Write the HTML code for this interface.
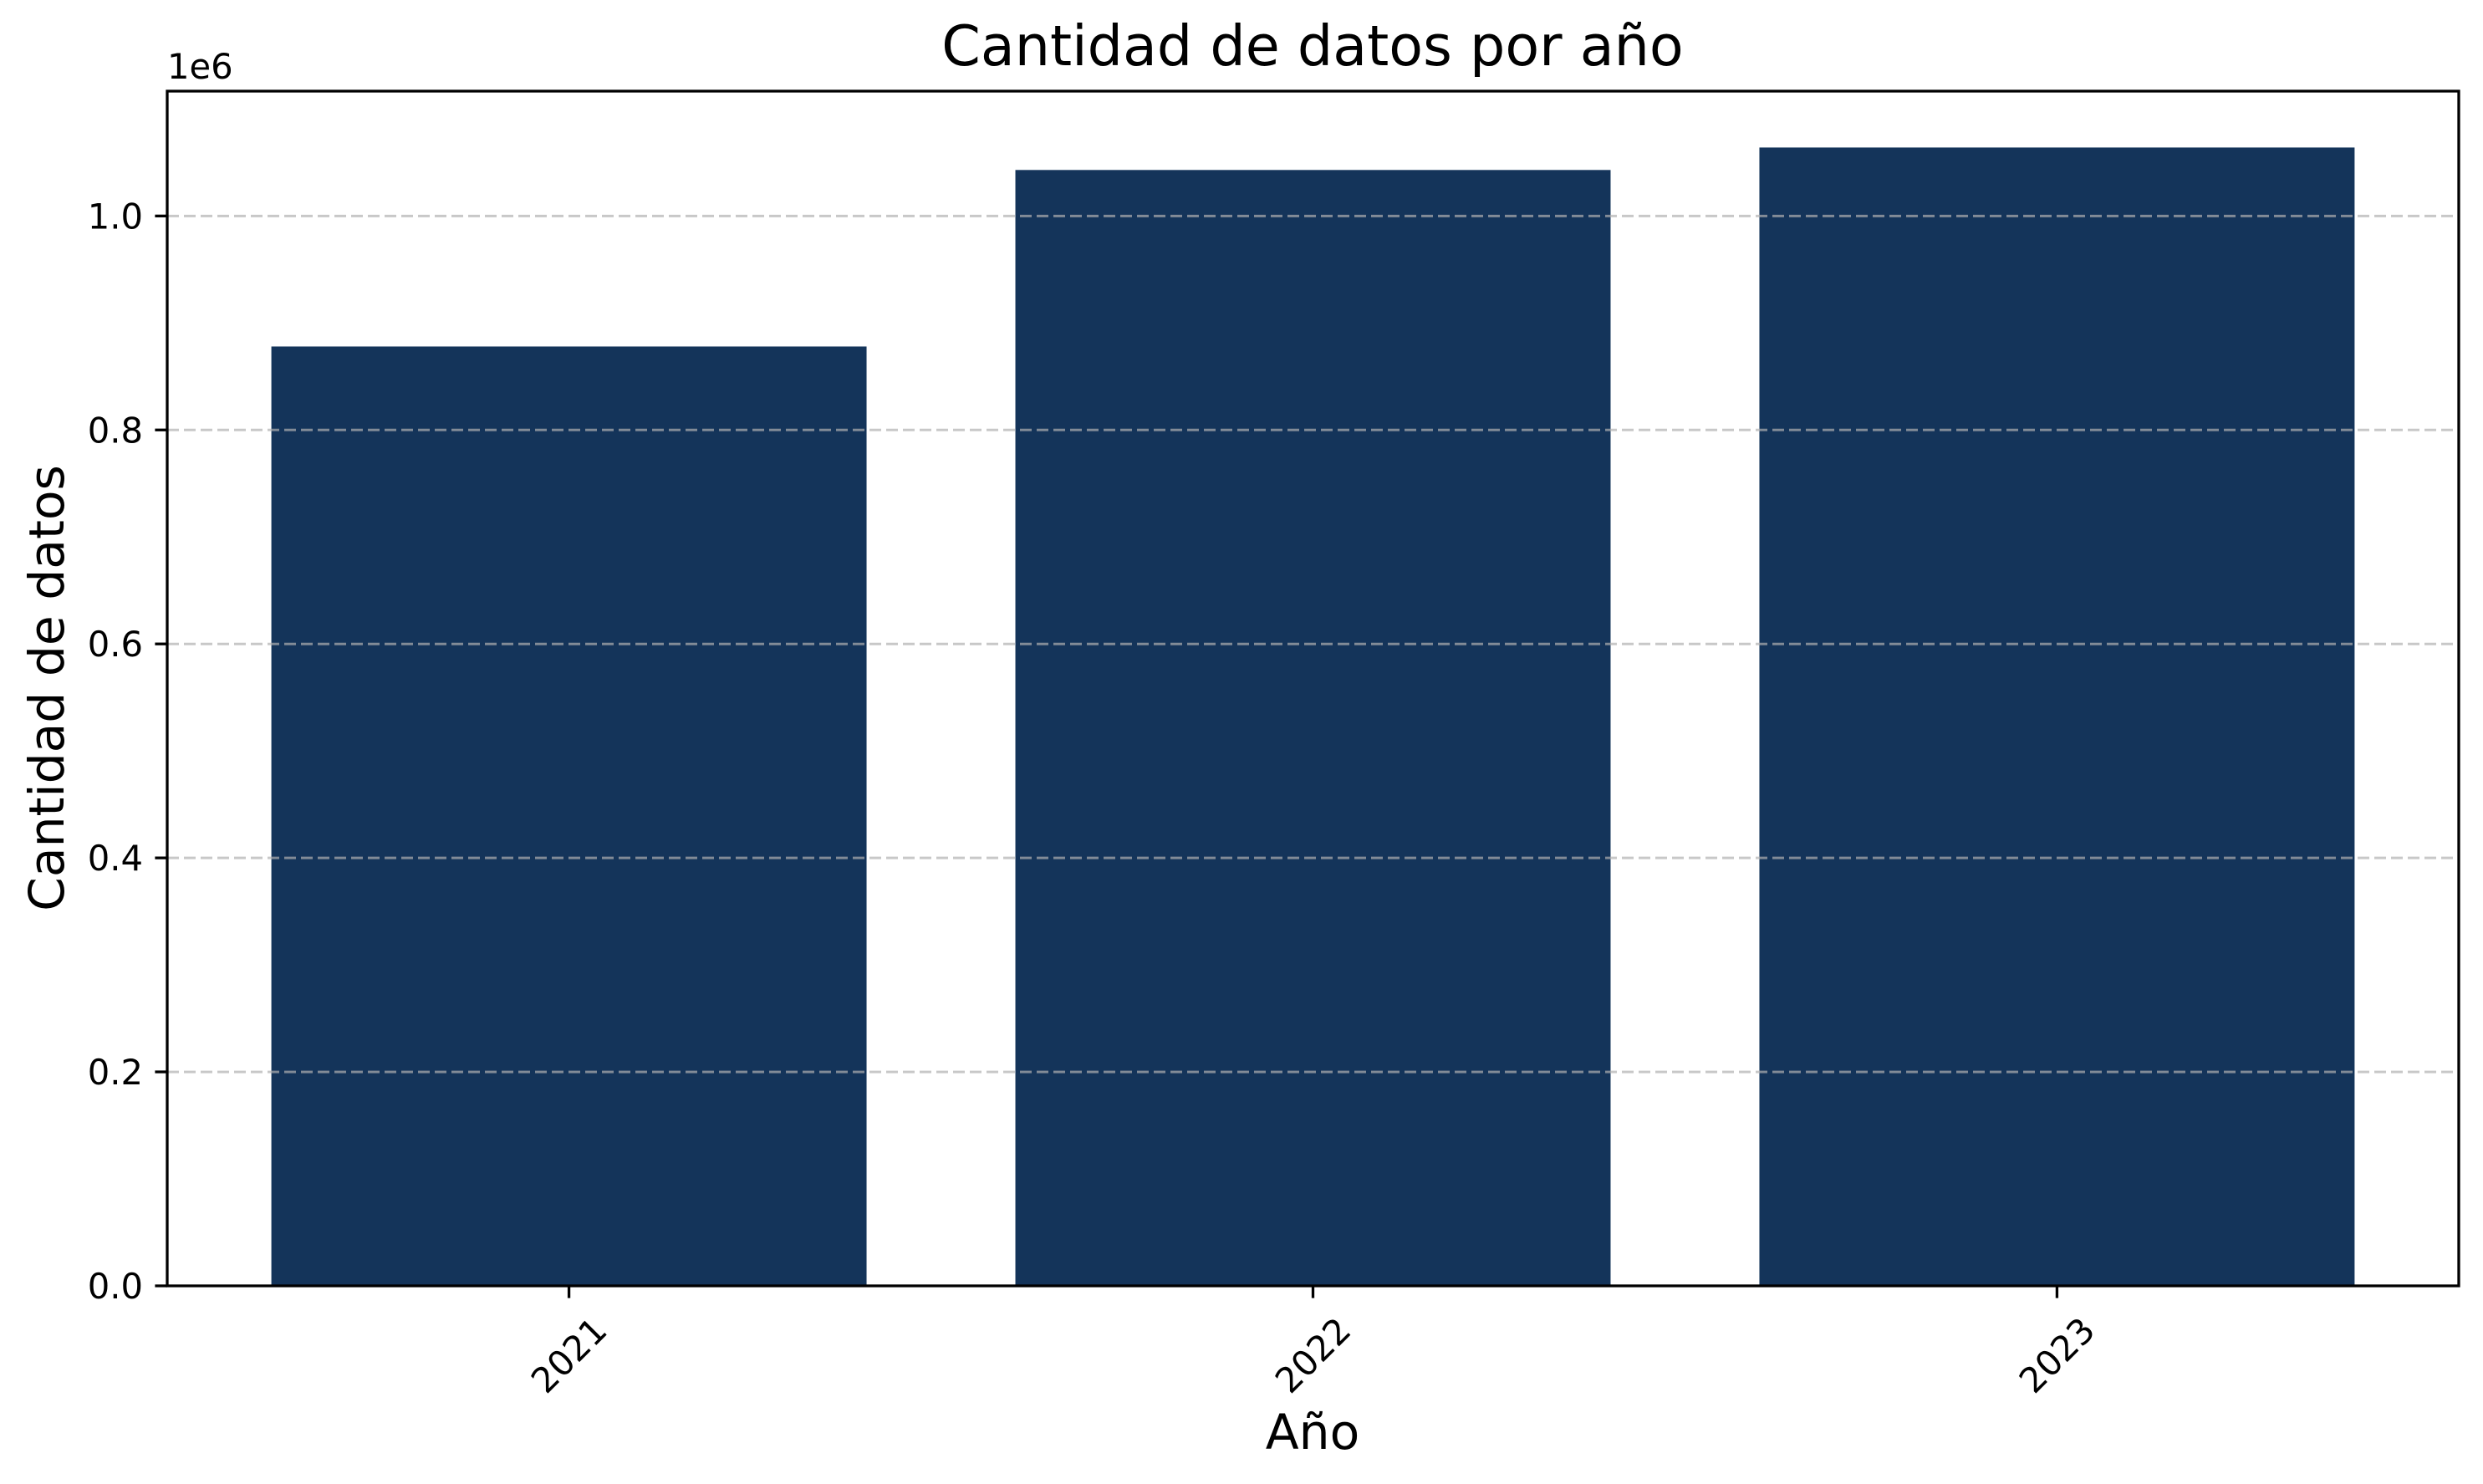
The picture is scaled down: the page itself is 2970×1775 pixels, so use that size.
<!DOCTYPE html>
<html><head><meta charset="utf-8"><style>
html,body{margin:0;padding:0;background:#fff}
svg{display:block;font-family:"DejaVu Sans","Liberation Sans",sans-serif}
</style></head><body>
<svg id="chart" width="2970" height="1775" viewBox="0 0 2970 1775" xmlns="http://www.w3.org/2000/svg">
<rect width="2970" height="1775" fill="#fff"/>
<text x="1570" y="78" font-size="66.7" text-anchor="middle">Cantidad de datos por año</text>
<text x="200" y="94" font-size="41.7">1e6</text>
<text transform="translate(76,823) rotate(-90)" font-size="58.3" text-anchor="middle">Cantidad de datos</text>
<text x="1570" y="1733" font-size="58.3" text-anchor="middle">Año</text>
<g id="bars"></g>
<g id="grid"></g>
<g id="axes"></g>
</svg>
<script>
const categories = ["2021", "2022", "2023"];
const values = [0.878e6, 1.043e6, 1.064e6];
const yTicks = [0, 0.2e6, 0.4e6, 0.6e6, 0.8e6, 1.0e6];
const yTickLabels = ["0.0", "0.2", "0.4", "0.6", "0.8", "1.0"];

const L = 200, R = 2941, T = 109, B = 1538;
const yMax = 1.1167e6, xMin = -0.54, xMax = 2.54, barW = 0.8;
const NS = "http://www.w3.org/2000/svg";
function xs(v){ return L + (v - xMin) / (xMax - xMin) * (R - L); }
function ys(v){ return B - v / yMax * (B - T); }
function mk(tag, attrs, parent){
  const e = document.createElementNS(NS, tag);
  for (const k in attrs) e.setAttribute(k, attrs[k]);
  parent.appendChild(e); return e;
}
const gBars = document.getElementById('bars');
const gGrid = document.getElementById('grid');
const gAxes = document.getElementById('axes');

values.forEach((v, i) => {
  const r = mk('rect', {x: xs(i - barW/2), y: ys(v), width: xs(i + barW/2) - xs(i - barW/2), height: B - ys(v), fill: '#14345a'}, gBars);
  
  
});

yTicks.forEach((t, i) => {
  const y = ys(t);
  if (t > 0) {
    const g = mk('line', {x1: L, x2: R, y1: y, y2: y, stroke: '#b0b0b0', 'stroke-opacity': 0.7, 'stroke-width': 3, 'stroke-dasharray': '14,6'}, gGrid);
    
    
  }
  const tk = mk('line', {x1: L - 14.6, x2: L, y1: y, y2: y, stroke: '#000', 'stroke-width': 3.3}, gAxes);
  
  
  const tx = mk('text', {x: L - 29, y: y + 15, 'font-size': 41.7, 'text-anchor': 'end'}, gAxes);
  tx.textContent = yTickLabels[i];
  
  
});

categories.forEach((c, i) => {
  const x = xs(i);
  const tk = mk('line', {x1: x, x2: x, y1: B, y2: B + 14.6, stroke: '#000', 'stroke-width': 3.3}, gAxes);
  
  
  const tx = mk('text', {x: 0, y: 0, 'font-size': 41.7, 'text-anchor': 'middle', 'dominant-baseline': 'central', transform: 'translate(' + x + ',1621) rotate(-45)'}, gAxes);
  tx.textContent = c;
  
  
});

const frame = mk('rect', {x: L, y: T, width: R - L, height: B - T, fill: 'none', stroke: '#000', 'stroke-width': 3.3}, gAxes);


</script>
</body></html>
